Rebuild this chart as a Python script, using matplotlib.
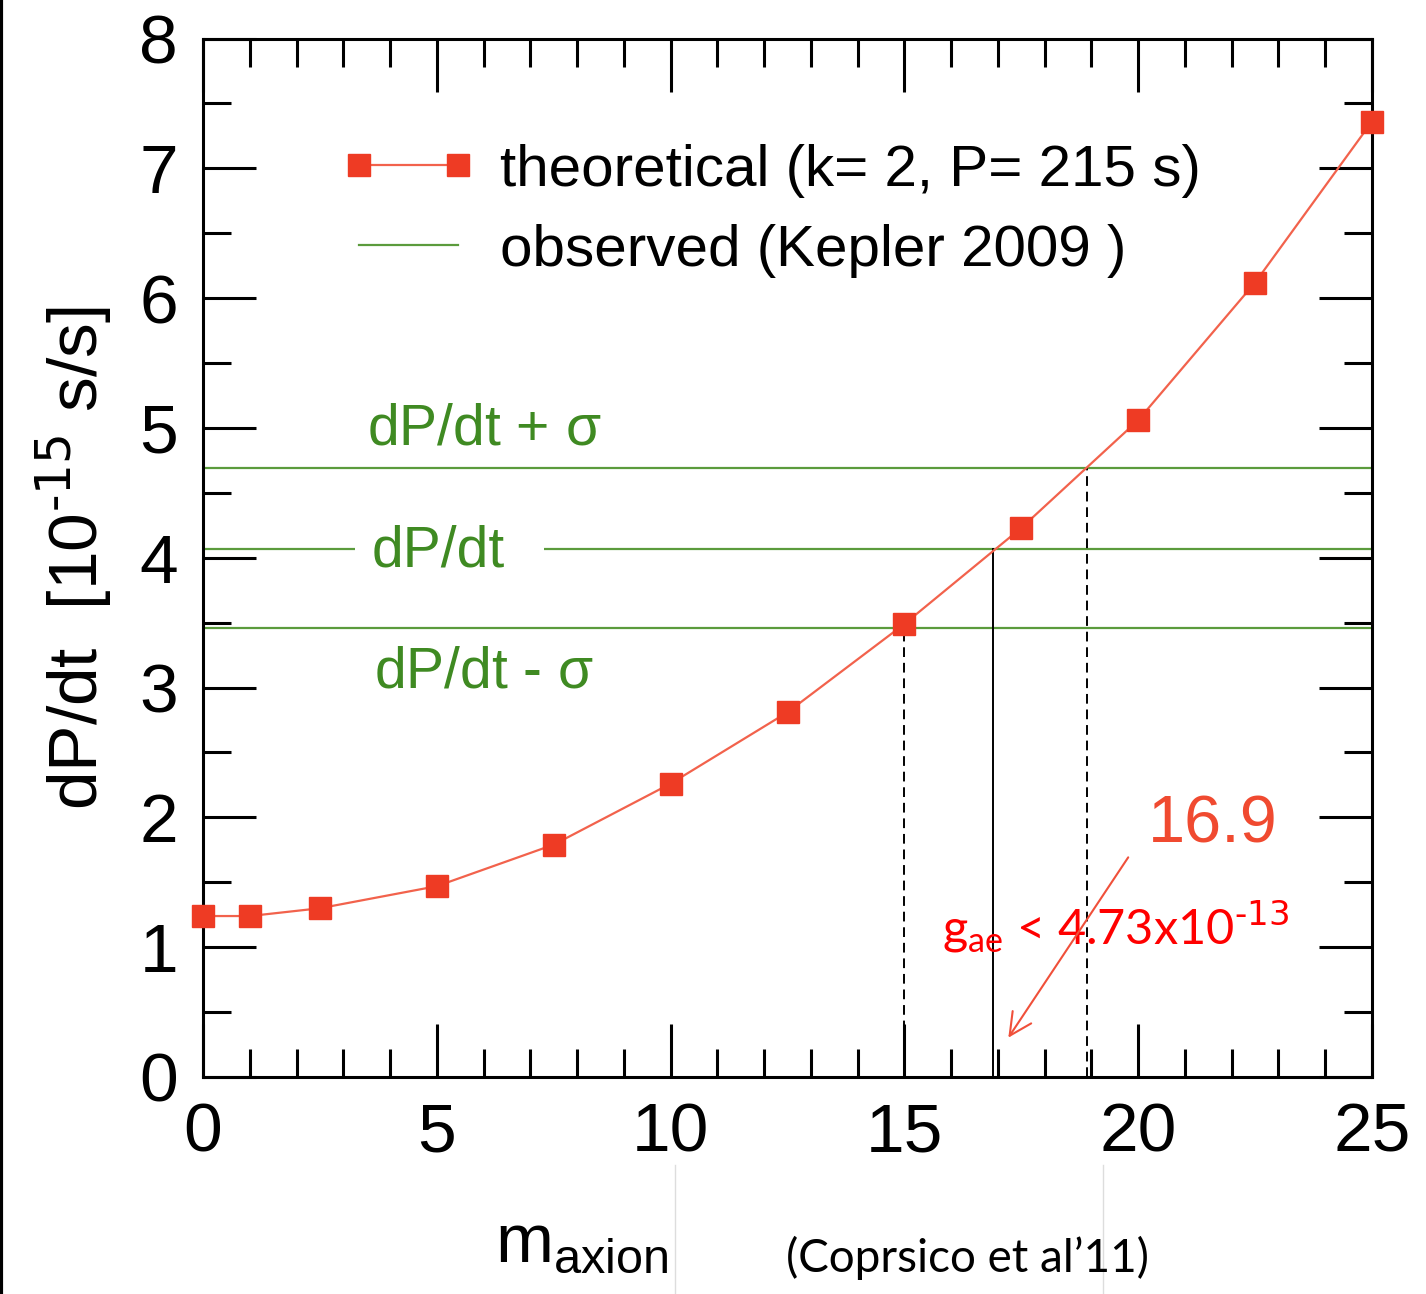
import matplotlib.pyplot as plt
from matplotlib.lines import Line2D
from matplotlib.ticker import MultipleLocator

# data
m_axion = [0, 1, 2.5, 5, 7.5, 10, 12.5, 15, 17.5, 20, 22.5, 25]
dpdt_theo = [1.24, 1.24, 1.30, 1.47, 1.79, 2.26, 2.81, 3.49, 4.23, 5.06, 6.12, 7.36]
dpdt_obs = 4.07
sigma_up = 4.69
sigma_lo = 3.46
m_lo, m_best, m_up = 15.0, 16.9, 18.9

red = '#ee3b24'
green = '#5b9b3c'
text_green = '#3f8a22'

plt.rcParams['font.family'] = ['Liberation Sans', 'DejaVu Sans']

fig = plt.figure(figsize=(14.26, 12.94), dpi=100)
ax = fig.add_axes([0.1424, 0.1677, 0.8197, 0.8025])

ax.plot(m_axion, dpdt_theo, color='#f2624c', lw=1.6, marker='s', ms=16,
        mfc=red, mec=red, label='theoretical (k= 2, P= 215 s)', clip_on=False, zorder=5)

ax.axhline(sigma_up, color=green, lw=1.6, label='observed (Kepler 2009 )')
# middle line is broken where its label sits
ax.hlines([dpdt_obs, dpdt_obs], [0, 7.3], [3.25, 25], color=green, lw=1.6)
ax.axhline(sigma_lo, color=green, lw=1.6)

# vertical markers down to the axis
ax.plot([m_lo, m_lo], [0, sigma_lo], color='black', lw=1.4, ls=(0, (5, 3)))
ax.plot([m_best, m_best], [0, dpdt_obs], color='black', lw=1.4)
ax.plot([m_up, m_up], [0, sigma_up], color='black', lw=1.4, ls=(0, (5, 3)))

ax.text(3.5, 4.99, r'dP/dt + $\mathregular{\sigma}$', color=text_green, fontsize=41, va='center')
ax.text(3.6, 4.05, 'dP/dt', color=text_green, fontsize=41, va='center')
ax.text(3.65, 3.12, r'dP/dt - $\mathregular{\sigma}$', color=text_green, fontsize=41, va='center')

ax.text(21.6, 1.94, '16.9', color='#f04a30', fontsize=48, ha='center', va='center')
ax.text(15.8, 1.02, r'g$_{\mathregular{ae}}$ < 4.73x10$^{\text{-13}}$', color='red',
        fontsize=35, family='Lato', va='baseline')
ax.annotate('', xy=(17.19, 0.285), xytext=(19.82, 1.71),
            arrowprops=dict(arrowstyle='->', color='#f0503a', lw=1.5, mutation_scale=40))

ax.set_xlim(0, 25)
ax.set_ylim(0, 8)
ax.xaxis.set_major_locator(MultipleLocator(5))
ax.xaxis.set_minor_locator(MultipleLocator(1))
ax.yaxis.set_major_locator(MultipleLocator(1))
ax.yaxis.set_minor_locator(MultipleLocator(0.5))
ax.tick_params(which='both', direction='in', top=True, right=True, width=2.2)
ax.tick_params(which='major', length=38, labelsize=50)
ax.tick_params(axis='x', which='major', pad=18)
ax.tick_params(axis='y', which='major', pad=18)
ax.tick_params(which='minor', length=20)
for s in ax.spines.values():
    s.set_linewidth(2.2)

ax.set_ylabel(r'dP/dt  [10$^{\text{-15}}$ s/s]', fontsize=50, labelpad=18)

leg = ax.legend(loc='upper left', bbox_to_anchor=(0.0935, 0.927), frameon=False,
                fontsize=42, handlelength=2.3, handletextpad=0.41, labelspacing=0.45,
                numpoints=2, borderpad=0)

fig.text(0.347, 0.025, r'm$_{\mathregular{axion}}$', fontsize=50, va='baseline')
fig.text(0.6785, 0.017, "(Coprsico et al\u201911)", fontsize=33, family='Lato', ha='center',
         va='baseline')

# faint crop edges and left border from the source slide
fig.add_artist(Line2D([675 / 1426] * 2, [0, 0.10], color='#dddddd', lw=1))
fig.add_artist(Line2D([1103 / 1426] * 2, [0, 0.10], color='#dddddd', lw=1))
fig.add_artist(Line2D([0.001] * 2, [0, 1], color='black', lw=3))

fig.savefig('out.png', dpi=100)
